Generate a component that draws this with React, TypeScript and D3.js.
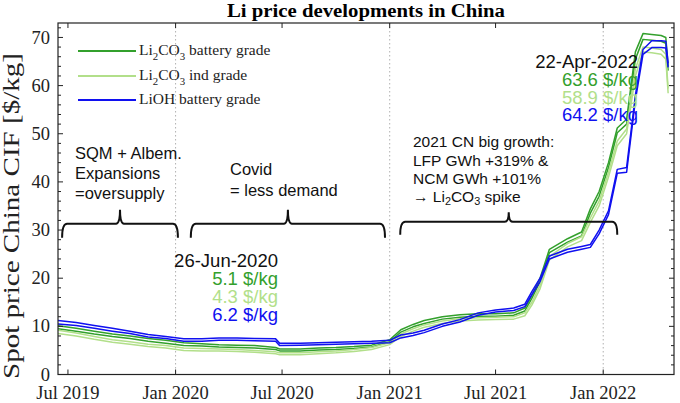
import React from "react";
import * as d3 from "d3";

// price series: each grade is drawn as a low / high price pair
const priceDates = [
  "2019-06-14", "2019-07-15", "2019-08-15", "2019-09-15", "2019-10-15", "2019-11-15",
  "2019-12-15", "2020-01-15", "2020-02-15", "2020-03-15", "2020-04-15", "2020-05-15",
  "2020-06-20", "2020-06-27", "2020-08-01", "2020-09-01", "2020-10-01", "2020-11-01",
  "2020-12-01", "2021-01-01", "2021-01-20", "2021-02-10", "2021-03-01", "2021-04-01",
  "2021-05-01", "2021-06-01", "2021-07-01", "2021-08-01", "2021-08-20", "2021-09-01",
  "2021-09-15", "2021-10-01", "2021-11-01", "2021-11-25", "2021-12-10", "2021-12-25",
  "2022-01-10", "2022-01-25", "2022-02-10", "2022-02-25", "2022-03-10", "2022-03-25",
  "2022-04-10", "2022-04-18", "2022-04-22",
];

const batteryHi = [
  10.1, 9.6, 9.0, 8.4, 8.0, 7.5, 7.1, 6.6, 6.4, 6.2, 6.1, 6.0, 5.6, 5.3, 5.3, 5.5, 5.6, 5.8,
  6.1, 7.2, 9.3, 10.4, 11.2, 12.0, 12.4, 12.6, 12.6, 12.8, 13.8, 16.4, 20.0, 26.0, 28.2, 29.6,
  34.4, 38.0, 44.0, 51.2, 53.0, 67.0, 70.8, 70.6, 70.4, 70.0, 64.1,
];
const batteryLo = [
  9.5, 9.0, 8.4, 7.9, 7.5, 6.9, 6.5, 6.0, 5.9, 5.7, 5.6, 5.5, 5.2, 4.9, 4.9, 5.1, 5.2, 5.4,
  5.7, 6.8, 8.8, 9.9, 10.6, 11.5, 11.9, 12.1, 12.1, 12.3, 13.2, 15.8, 19.3, 25.3, 27.5, 28.8,
  33.5, 37.0, 43.0, 50.2, 52.0, 65.5, 69.6, 69.4, 69.2, 68.8, 63.1,
];
const industrialHi = [
  9.2, 8.6, 7.9, 7.2, 6.8, 6.3, 6.0, 5.5, 5.4, 5.3, 5.2, 5.0, 4.7, 4.5, 4.5, 4.7, 4.9, 5.2,
  5.6, 6.6, 8.4, 9.5, 10.3, 11.1, 11.6, 11.8, 11.9, 12.0, 12.8, 15.0, 18.5, 24.5, 27.2, 28.6,
  32.5, 36.0, 42.0, 48.5, 51.0, 63.5, 68.0, 67.8, 67.5, 66.5, 59.4,
];
const industrialLo = [
  8.5, 8.0, 7.3, 6.7, 6.3, 5.8, 5.5, 5.0, 4.9, 4.9, 4.8, 4.6, 4.3, 4.1, 4.1, 4.3, 4.5, 4.8,
  5.2, 6.2, 7.9, 9.0, 9.8, 10.6, 11.1, 11.3, 11.4, 11.5, 12.2, 14.4, 17.8, 23.8, 26.5, 27.8,
  31.6, 35.0, 41.0, 47.5, 50.0, 62.0, 67.0, 66.8, 66.5, 65.5, 58.4,
];
const liohHi = [
  11.2, 10.8, 10.2, 9.6, 9.0, 8.3, 7.9, 7.4, 7.4, 7.6, 7.6, 7.5, 7.4, 6.5, 6.5, 6.6, 6.7, 6.8,
  6.9, 7.1, 8.2, 8.6, 9.2, 10.5, 11.4, 12.8, 13.4, 13.8, 14.6, 17.2, 20.0, 24.6, 26.0, 26.6,
  27.0, 30.0, 34.0, 42.6, 43.0, 58.0, 67.5, 69.3, 69.3, 69.2, 64.6,
];
const liohLo = [
  10.5, 10.2, 9.6, 9.0, 8.5, 7.8, 7.5, 6.9, 6.9, 7.1, 7.1, 7.0, 6.9, 6.0, 6.1, 6.2, 6.3, 6.4,
  6.5, 6.6, 7.6, 8.1, 8.7, 10.0, 10.9, 12.3, 13.0, 13.3, 14.1, 16.6, 19.3, 24.0, 25.4, 26.0,
  26.4, 29.2, 33.2, 41.8, 42.0, 57.0, 66.5, 67.9, 67.9, 67.8, 63.8,
];

const tickDates = ["2019-07-01", "2020-01-01", "2020-07-01", "2021-01-01", "2021-07-01", "2022-01-01"];
const tickLabels = ["Jul 2019", "Jan 2020", "Jul 2020", "Jan 2021", "Jul 2021", "Jan 2022"];
const gridDates = ["2020-01-01", "2021-01-01", "2022-01-01"];

// braces: start, end (tip at the middle), end / bar / tip levels in $/kg
const braceFrom = ["2019-06-21", "2020-01-27", "2021-01-19"];
const braceTo = ["2020-01-05", "2020-12-24", "2022-01-25"];
const braceLevels = [
  [28.4, 31.3, 34.2],
  [28.4, 31.3, 34.2],
  [29.0, 31.7, 33.7],
];

const GREEN = "#33a02c";
const LIGHT = "#b2df8a";
const BLUE = "#1010f0";
const SERIF = "'Liberation Serif', 'Times New Roman', serif";
const SANS = "'Liberation Sans', Arial, sans-serif";

const W = 680;
const H = 403;
const L = 58;
const R = 674;
const T = 23;
const B = 374.5;

const parse = d3.timeParse("%Y-%m-%d");

// text pieces, second item true = subscript
type Piece = [string, boolean];
const rich = (parts: Piece[], size: number, shift = 0.3) => {
  let down = false;
  return parts.map(([t, s], i) => {
    let dy = 0;
    if (s && !down) dy = size * shift;
    if (!s && down) dy = -size * shift;
    down = s;
    return (
      <tspan key={i} dy={dy} fontSize={s ? size * 0.7 : size}>
        {t}
      </tspan>
    );
  });
};

export default function App() {
  const dates = priceDates.map((d) => parse(d)!);
  const x = d3.scaleTime().domain([new Date(2019, 5, 14), new Date(2022, 4, 2)]).range([L, R]);
  const y = d3.scaleLinear().domain([0, 73]).range([B, T]);

  const line = d3
    .line<number>()
    .x((_, i) => x(dates[i]))
    .y((v) => y(v));

  const series = [
    { color: GREEN, hi: batteryHi, lo: batteryLo },
    { color: LIGHT, hi: industrialHi, lo: industrialLo },
    { color: BLUE, hi: liohHi, lo: liohLo },
  ];

  const majorY = d3.range(0, 71, 10);
  const minorY = d3.range(0, 73, 2).filter((v) => v % 10 !== 0);

  const bracePath = (i: number) => {
    const x0 = x(parse(braceFrom[i])!);
    const x1 = x(parse(braceTo[i])!);
    const xm = (x0 + x1) / 2;
    const [e, b, t] = braceLevels[i].map((v) => y(v));
    const r = 5;
    return `M${x0},${e} Q${x0},${b} ${x0 + r},${b} L${xm - 4},${b} Q${xm},${b} ${xm},${t} Q${xm},${b} ${xm + 4},${b} L${x1 - r},${b} Q${x1},${b} ${x1},${e}`;
  };

  const carb: Piece[] = [["Li", false], ["2", true], ["CO", false], ["3", true]];

  const legend = [
    { color: GREEN, y: 51, base: 55, parts: [...carb, [" battery grade", false]] as Piece[] },
    { color: LIGHT, y: 76, base: 80, parts: [...carb, [" ind grade", false]] as Piece[] },
    { color: BLUE, y: 100, base: 104, parts: [["LiOH battery grade", false]] as Piece[] },
  ];

  return (
    <svg width={W} height={H} style={{ position: "absolute", left: 0, top: 0, background: "#fff" }}>
      {/* grid */}
      {gridDates.map((d) => (
        <line
          key={d}
          x1={x(parse(d)!)}
          x2={x(parse(d)!)}
          y1={T}
          y2={B}
          stroke="#b0b0b0"
          strokeWidth={1}
          strokeDasharray="1.5,2.5"
        />
      ))}

      {/* series */}
      {series.map((s, i) => (
        <g key={i} fill="none" stroke={s.color} strokeWidth={1.5} strokeLinejoin="round">
          <path d={line(s.lo) ?? ""} />
          <path d={line(s.hi) ?? ""} />
        </g>
      ))}

      {/* frame */}
      <rect x={L} y={T} width={R - L} height={B - T} fill="none" stroke="#222" strokeWidth={1.2} />

      {/* y ticks */}
      {majorY.map((v) => (
        <g key={v}>
          <line x1={L} x2={L + 5} y1={y(v)} y2={y(v)} stroke="#222" />
          <line x1={R} x2={R - 5} y1={y(v)} y2={y(v)} stroke="#222" />
          <text
            x={50}
            y={y(v)}
            dy="0.33em"
            textAnchor="end"
            fontFamily={SERIF}
            fontSize={18.5}
            fill="#222"
          >
            {v}
          </text>
        </g>
      ))}
      {minorY.map((v) => (
        <g key={v}>
          <line x1={L} x2={L + 3} y1={y(v)} y2={y(v)} stroke="#222" />
          <line x1={R} x2={R - 3} y1={y(v)} y2={y(v)} stroke="#222" />
        </g>
      ))}

      {/* x ticks */}
      {tickDates.map((d, i) => {
        const xx = x(parse(d)!);
        return (
          <g key={d}>
            <line x1={xx} x2={xx} y1={B} y2={B - 5} stroke="#222" />
            <line x1={xx} x2={xx} y1={T} y2={T + 5} stroke="#222" />
            <text x={xx} y={399} textAnchor="middle" fontFamily={SERIF} fontSize={18.5} fill="#222">
              {tickLabels[i]}
            </text>
          </g>
        );
      })}

      {/* title and axis label */}
      <text
        x={(L + R) / 2}
        y={17}
        textAnchor="middle"
        fontFamily={SERIF}
        fontWeight="bold"
        fontSize={18}
        textLength={278}
        lengthAdjust="spacingAndGlyphs"
      >
        Li price developments in China
      </text>
      <text
        transform={`translate(19,${216}) rotate(-90)`}
        textAnchor="middle"
        fontFamily={SERIF}
        fontSize={23}
        textLength={326}
        lengthAdjust="spacingAndGlyphs"
        fill="#222"
      >
        Spot price China CIF [$/kg]
      </text>

      {/* legend */}
      {legend.map((l, i) => (
        <g key={i}>
          <line x1={78} x2={136} y1={l.y} y2={l.y} stroke={l.color} strokeWidth={2} />
          <text x={139} y={l.base} fontFamily={SERIF} fontSize={15.5} fill="#222">
            {rich(l.parts, 15.5, 0.35)}
          </text>
        </g>
      ))}

      {/* braces */}
      {braceFrom.map((_, i) => (
        <path key={i} d={bracePath(i)} fill="none" stroke="#111" strokeWidth={2} />
      ))}

      {/* annotations */}
      <g fontFamily={SANS} fontSize={16.5} fill="#111">
        <text x={75} y={159}>SQM + Albem.</text>
        <text x={75} y={179}>Expansions</text>
        <text x={75} y={199}>=oversupply</text>
        <text x={230} y={175}>Covid</text>
        <text x={230} y={196}>= less demand</text>
      </g>
      <g fontFamily={SANS} fontSize={15.5} fill="#111">
        <text x={413} y={147}>2021 CN big growth:</text>
        <text x={413} y={166}>LFP GWh +319% &amp;</text>
        <text x={413} y={184}>NCM GWh +101%</text>
        <text x={413} y={202}>
          {rich(
            [
              ["\u2192 Li", false],
              ["2", true],
              ["CO", false],
              ["3", true],
              [" spike", false],
            ],
            15.5,
            0.2
          )}
        </text>
      </g>

      <g fontFamily={SANS} fontSize={18.5} textAnchor="end">
        <text x={278} y={267} fill="#111">26-Jun-2020</text>
        <text x={278} y={285} fill={GREEN}>5.1 $/kg</text>
        <text x={278} y={303} fill={LIGHT}>4.3 $/kg</text>
        <text x={278} y={321} fill={BLUE}>6.2 $/kg</text>

        <text x={638} y={68} fill="#111">22-Apr-2022</text>
        <text x={638} y={86} fill={GREEN}>63.6 $/kg</text>
        <text x={638} y={104} fill={LIGHT}>58.9 $/kg</text>
        <text x={638} y={121} fill={BLUE}>64.2 $/kg</text>
      </g>
    </svg>
  );
}
